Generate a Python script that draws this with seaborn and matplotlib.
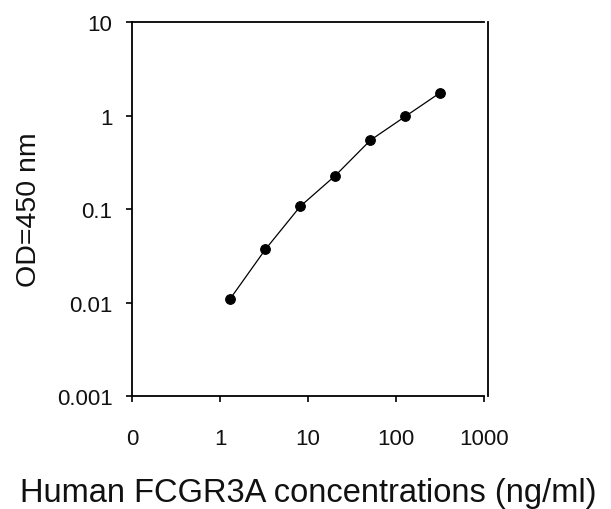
import matplotlib
matplotlib.use("Agg")
import matplotlib.pyplot as plt
import seaborn as sns
import pandas as pd
from matplotlib.ticker import FixedLocator, FixedFormatter, NullLocator

conc = [1.31, 3.28, 8.19, 20.48, 51.2, 128, 320]
od = [0.011, 0.037, 0.107, 0.228, 0.544, 0.98, 1.76]
xticks = [0.1, 1, 10, 100, 1000]
xtick_labels = ["0", "1", "10", "100", "1000"]
yticks = [0.001, 0.01, 0.1, 1, 10]
ytick_labels = ["0.001", "0.01", "0.1", "1", "10"]

sns.set_style("white")
plt.rcParams["font.family"] = ["Liberation Sans", "DejaVu Sans"]

df = pd.DataFrame({"conc": conc, "od": od})

fig = plt.figure(figsize=(6.11, 5.10), dpi=100)
ax = fig.add_axes([132/611, 1-397/510, (484-132)/611, (397-23)/510])
sns.lineplot(data=df, x="conc", y="od", ax=ax, color="black", linewidth=0.9,
             marker="o", markersize=7, markeredgecolor="black", markerfacecolor="black")
ax.set_xscale("log")
ax.set_yscale("log")
ax.set_xlim(0.1, 1000)
ax.set_ylim(0.001, 10)
ax.xaxis.set_major_locator(FixedLocator(xticks))
ax.xaxis.set_major_formatter(FixedFormatter(xtick_labels))
ax.yaxis.set_major_locator(FixedLocator(yticks))
ax.yaxis.set_major_formatter(FixedFormatter(ytick_labels))
ax.xaxis.set_minor_locator(NullLocator())
ax.yaxis.set_minor_locator(NullLocator())

for s in ax.spines.values():
    s.set_color("black")
    s.set_linewidth(1.3)
ax.spines["right"].set_position(("outward", 3))

ax.tick_params(axis="both", which="major", direction="out", length=4, width=1.2,
               color="black", labelsize=16, labelcolor="#111111")
ax.tick_params(axis="x", pad=19)
ax.tick_params(axis="y", pad=10)
ax.tick_params(bottom=True, left=True)

ax.set_xlabel("Human FCGR3A concentrations (ng/ml)", fontsize=23.5, labelpad=20, color="#111111")
ax.set_ylabel("OD=450 nm", fontsize=20.5, labelpad=11, color="#111111")
ax.grid(False)

fig.savefig("out.png", dpi=100, facecolor="white")
